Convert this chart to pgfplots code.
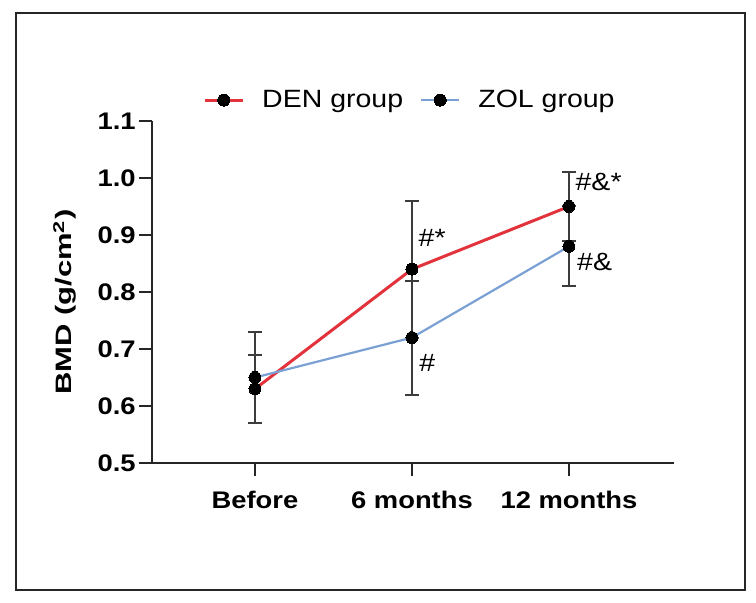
\documentclass[border=0pt]{standalone}
\usepackage{pgfplots}
\pgfplotsset{compat=1.18}
\usepackage{fontspec}
\setmainfont{Liberation Sans}

\definecolor{denred}{RGB}{226,50,60}
\definecolor{zolblue}{RGB}{122,160,212}
\definecolor{barcol}{RGB}{60,60,60}

% slightly widened lettering used throughout the chart
\newcommand{\wide}[1]{\scalebox{1.14}[1]{#1}}

\begin{document}
\begin{tikzpicture}
% overall canvas and thin outer frame
\useasboundingbox (0pt,0pt) rectangle (378pt,301.5pt);
\draw[line width=0.6pt, black!85] (8pt,6.5pt) rectangle (372.5pt,295pt);

\begin{axis}[
  at={(76pt,70pt)}, anchor=south west,
  scale only axis, width=261pt, height=171pt,
  xmin=-0.656, xmax=2.669, ymin=0.5, ymax=1.1,
  axis x line*=bottom, axis y line*=left,
  axis line style={line width=1.1pt, black!85},
  xtick={0,1,2},
  xticklabels={\wide{Before},\wide{6 months},\wide{12 months}},
  ytick={0.5,0.6,...,1.1},
  yticklabel={\wide{\pgfmathprintnumber[fixed, fixed zerofill, precision=1]{\tick}}},
  /pgf/number format/assume math mode=true,
  tick align=outside, major tick length=6.5pt,
  tick style={line width=1.1pt, black!85},
  ticklabel style={font=\fontsize{12}{14}\selectfont\bfseries},
  yticklabel style={inner xsep=1.5pt},
  xticklabel style={yshift=-4pt},
  ylabel={\scalebox{1}[0.72]{BMD (g/cm\textsuperscript{2})}},
  ylabel style={font=\fontsize{15.5}{17}\selectfont\bfseries,
    at={(axis description cs:-0.167,0.47)}, anchor=center},
  legend columns=2,
  legend style={draw=none, fill=none, font=\fontsize{12.5}{15}\selectfont,
    at={(rel axis cs:0.496,1.061)}, anchor=center,
    /tikz/every odd column/.append style={column sep=7pt},
    /tikz/every even column/.append style={column sep=6.5pt}},
  legend image code/.code={%
    \draw[mark repeat=2, mark phase=2] plot coordinates {(0pt,0pt) (9.5pt,0pt) (19pt,0pt)};},
  clip=false,
]
\addplot[denred, line width=1.5pt, mark=*, mark size=3pt,
  mark options={fill=black, draw=black, line width=0pt},
  error bars/.cd, y dir=both, y explicit,
  error bar style={barcol, line width=1pt},
  error mark options={rotate=90, mark size=3.5pt, line width=1pt, barcol}]
coordinates {(0,0.63) +- (0,0.06) (1,0.84) +- (0,0.12) (2,0.95) +- (0,0.06)};
\addlegendentry{\wide{DEN group}}

\addplot[zolblue, line width=1.1pt, mark=*, mark size=3pt,
  mark options={fill=black, draw=black, line width=0pt},
  error bars/.cd, y dir=both, y explicit,
  error bar style={barcol, line width=1pt},
  error mark options={rotate=90, mark size=3.5pt, line width=1pt, barcol}]
coordinates {(0,0.65) +- (0,0.08) (1,0.72) +- (0,0.10) (2,0.88) +- (0,0.07)};
\addlegendentry{\wide{ZOL group}}

% significance markers
\begin{scope}[every node/.style={anchor=west, inner sep=0pt, font=\fontsize{12.5}{15}\selectfont}]
\node at (axis cs:1.04,0.895) {\wide{\#*}};
\node at (axis cs:1.045,0.675) {\wide{\#}};
\node at (axis cs:2.04,0.993) {\wide{\#\&*}};
\node at (axis cs:2.05,0.853) {\wide{\#\&}};
\end{scope}
\end{axis}
\end{tikzpicture}
\end{document}
